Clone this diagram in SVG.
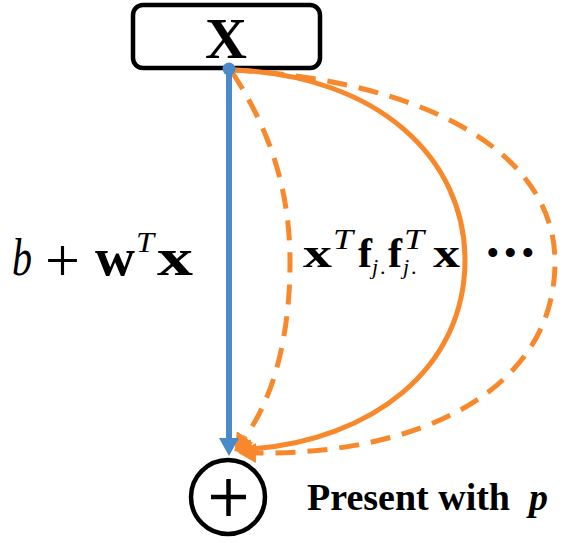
<svg xmlns="http://www.w3.org/2000/svg" width="569" height="543" viewBox="0 0 569 543">
<style>
.box{fill:#fff;stroke:#000;stroke-width:4.5}
.blue{stroke:#4A89CA;stroke-width:6;fill:none}
.or{stroke:#F7892C;stroke-width:5;fill:none}
.dash{stroke-dasharray:20 12}
.serif{font-family:"Liberation Serif","Times New Roman",serif;fill:#000}
.it{font-style:italic}
.bd{font-weight:bold}
</style>
<defs>
<marker id="ah-blue" markerUnits="userSpaceOnUse" viewBox="0 0 18 20" refX="0" refY="10" markerWidth="18" markerHeight="20" orient="auto">
<path d="M0,0 L18,10 L0,20 z" fill="#4A89CA"/>
</marker>
<marker id="ah-or" markerUnits="userSpaceOnUse" viewBox="0 0 18 20" refX="0" refY="10" markerWidth="18" markerHeight="20" orient="auto">
<path d="M0,0 L18,10 L0,20 z" fill="#F7892C"/>
</marker>
</defs>
<g id="node-x">
<rect class="box" x="133" y="5" width="187" height="63" rx="10"/>
<text class="serif bd" x="226" y="58" font-size="58" text-anchor="middle">X</text>
</g>
<g id="node-sum">
<circle cx="228" cy="497" r="37" fill="#fff" stroke="#000" stroke-width="4.5"/>
<path d="M211,497 H246 M228.5,479 V516" stroke="#000" stroke-width="4.5"/>
</g>
<g id="connectors">
<path class="or dash" d="M232,72 C270,130 290,190 290,262 C290,340 272,400 245,437" marker-end="url(#ah-or)"/>
<path class="or dash" d="M232,70 C420,80 555,150 555,262 C555,390 420,455 256,453" marker-end="url(#ah-or)"/>
<path class="or" d="M232,70 C380,75 465,160 465,260 C465,370 370,440 252,449" marker-end="url(#ah-or)"/>
<line class="blue" x1="229" y1="69" x2="229" y2="438" marker-end="url(#ah-blue)"/>
<circle cx="229" cy="69" r="6.5" fill="#4A89CA"/>
</g>
<g id="label-linear">
<text class="serif it" x="12" y="275" font-size="52" textLength="20" lengthAdjust="spacingAndGlyphs">b</text>
<text class="serif" x="45" y="281" font-size="62" textLength="35" lengthAdjust="spacingAndGlyphs">+</text>
<text class="serif bd" x="95" y="275" font-size="52" textLength="40" lengthAdjust="spacingAndGlyphs">w</text>
<text class="serif it" x="136" y="252" font-size="30" textLength="18" lengthAdjust="spacingAndGlyphs">T</text>
<text class="serif bd" x="157" y="275" font-size="52" textLength="36" lengthAdjust="spacingAndGlyphs">x</text>
</g>
<g id="label-quadratic">
<text class="serif bd" x="303" y="267" font-size="42" textLength="29" lengthAdjust="spacingAndGlyphs">x</text>
<text class="serif it" x="333" y="249" font-size="29" textLength="20" lengthAdjust="spacingAndGlyphs">T</text>
<text class="serif bd" x="358" y="267" font-size="42" textLength="14" lengthAdjust="spacingAndGlyphs">f</text>
<text class="serif it" x="372" y="274" font-size="22">j</text>
<text class="serif" x="380" y="274" font-size="22">.</text>
<text class="serif bd" x="388" y="267" font-size="42" textLength="14" lengthAdjust="spacingAndGlyphs">f</text>
<text class="serif it" x="404" y="249" font-size="29" textLength="20" lengthAdjust="spacingAndGlyphs">T</text>
<text class="serif it" x="403" y="274" font-size="22">j</text>
<text class="serif" x="411" y="274" font-size="22">.</text>
<text class="serif bd" x="433" y="267" font-size="42" textLength="27" lengthAdjust="spacingAndGlyphs">x</text>
</g>
<g id="label-more">
<text x="487" y="264" font-family="'Liberation Sans',Arial,sans-serif" font-size="33" letter-spacing="6" fill="#000">•••</text>
</g>
<g id="label-present">
<text class="serif bd" x="307" y="510" font-size="38">Present with <tspan x="529" class="it">p</tspan></text>
</g>
</svg>
